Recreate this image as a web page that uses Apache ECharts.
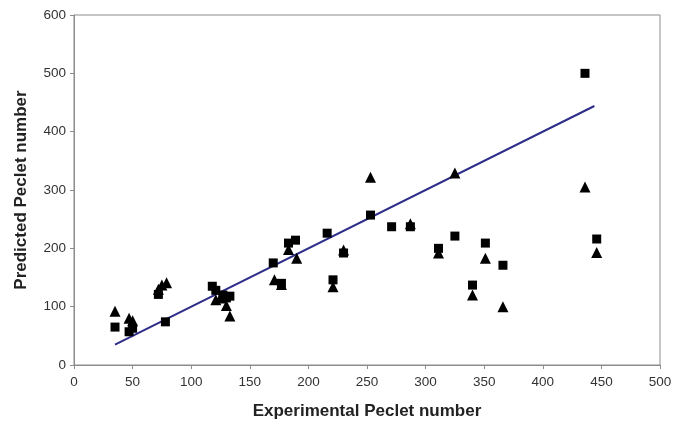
<!DOCTYPE html>
<html><head><meta charset="utf-8">
<script src="https://cdn.jsdelivr.net/npm/echarts@6/dist/echarts.min.js"></script>
<style>html,body{margin:0;padding:0;background:#fff}#c{width:692px;height:430px}</style>
</head><body><div id="c"></div>
<script>
const squares = [[35,65],[47,57],[50,63],[72,121],[78,74],[118,135],[121,128],[127,120],[130,115],[133,118],[170,175],[177,140],[183,209],[189,214],[216,226],[221,146],[230,192],[253,257],[271,237],[287,237],[311,200],[325,221],[340,137],[351,209],[366,171],[436,500],[446,216]];
const triangles = [[35,92],[47,80],[50,76],[72,130],[75,137],[79,141],[121,112],[125,115],[130,102],[133,84],[171,146],[177,138],[183,198],[190,183],[221,134],[230,197],[253,322],[287,242],[311,192],[325,329],[340,120],[351,183],[366,100],[436,305],[446,193]];
const fitLine = [[35,35],[444,444]];
const xTitle = 'Experimental Peclet number';
const yTitle = 'Predicted Peclet number';

const chart = echarts.init(document.getElementById('c'));
const axisCommon = {
  axisLine:{show:true,onZero:false,lineStyle:{color:'#8c8c8c',width:1}},
  axisTick:{show:true,inside:false,length:4,lineStyle:{color:'#8c8c8c'}},
  axisLabel:{color:'#333',fontSize:13.5,fontFamily:'Liberation Sans, Arial'},
  splitLine:{show:false},
  nameLocation:'middle',
  nameTextStyle:{color:'#222',fontSize:17,fontWeight:'bold',fontFamily:'Liberation Sans, Arial'}
};
chart.setOption({
  animation:false,
  grid:{left:74,right:32,top:15,bottom:65,show:true,borderColor:'#8c8c8c',borderWidth:1},
  xAxis:Object.assign({type:'value',min:0,max:500,interval:50,name:xTitle,nameGap:38},axisCommon,
    {axisLabel:Object.assign({},axisCommon.axisLabel,{margin:10})}),
  yAxis:Object.assign({type:'value',min:0,max:600,interval:100,name:yTitle,nameGap:44},axisCommon,
    {axisLabel:Object.assign({},axisCommon.axisLabel,{margin:8})}),
  series:[
    {type:'line',data:fitLine,symbol:'none',lineStyle:{color:'#2e2e8a',width:2},z:1},
    {type:'scatter',data:squares,symbol:'rect',symbolSize:9,itemStyle:{color:'#000',opacity:1},z:3},
    {type:'scatter',data:triangles,symbol:'triangle',symbolSize:11,itemStyle:{color:'#000',opacity:1},z:2}
  ]
});
</script></body></html>
